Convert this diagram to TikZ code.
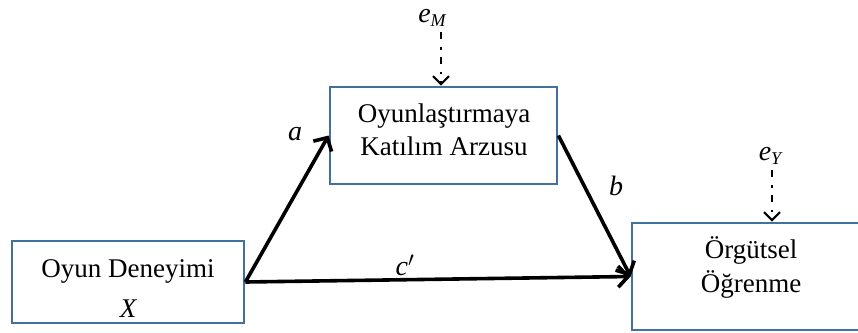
\documentclass[tikz,border=0pt]{standalone}
\usepackage{fontspec}
\setmainfont{Liberation Serif}
\usetikzlibrary{arrows.meta}
\definecolor{boxblue}{RGB}{65,113,156}
\begin{document}
\begin{tikzpicture}[x=1pt,y=-1pt,
  box/.style={draw=boxblue,line width=2.8pt,inner sep=0pt,fill=white},
  txt/.style={inner sep=0pt,font=\fontsize{27}{30}\selectfont},
  lbl/.style={inner sep=0pt,font=\fontsize{28}{30}\selectfont\itshape},
  arr/.style={line width=3.6pt,-{Straight Barb[length=10pt,width=21pt]}},
  darr/.style={line width=2.1pt,dash pattern=on 7pt off 8pt on 2.5pt off 7pt,-{Straight Barb[length=8pt,width=16pt]}}]
\useasboundingbox (0,0) rectangle (858,332);
\fill[white] (0,0) rectangle (858,332);
% boxes
\node[box,minimum width=232pt,minimum height=82pt] (lft) at (128,282) {};
\node[box,minimum width=227pt,minimum height=97pt] (mid) at (443.5,135.5) {};
\node[box,minimum width=240pt,minimum height=107pt] (rgt) at (752,276.5) {};
% box texts
\node[txt,anchor=base] (t1) at (128,277) {Oyun Deneyimi};
\node[txt,anchor=base] (t2) at (128,317) {\itshape X};
\node[txt,anchor=base] (t3) at (444,122) {Oyunlaştırmaya};
\node[txt,anchor=base] (t4) at (444,155) {Katılım Arzusu};
\node[txt,anchor=base] (t5) at (751,258) {Örgütsel};
\node[txt,anchor=base] (t6) at (751,292) {Öğrenme};
% error terms
\node[lbl,anchor=base] (eM) at (432,22) {e\raisebox{-4pt}{\fontsize{18}{18}\selectfont M}};
\node[lbl,anchor=base] (eY) at (770,160) {e\raisebox{-4pt}{\fontsize{18}{18}\selectfont Y}};
\coordinate (eMs) at (441,32);
\coordinate (eYs) at (772,170);
\draw[darr] (eMs) -- (eMs |- mid.north);
\draw[darr] (eYs) -- (eYs |- rgt.north);
% paths
\draw[arr] (lft.east) -- (mid.west);
\draw[arr] (mid.east) -- (rgt.west);
\draw[arr] (lft.east) -- (rgt.west);
% labels
\node[lbl] (la) at (295,134) {a};
\node[lbl] (lb) at (616,186) {b};
\node[lbl] (lc) at (405,265) {c$'$};
\end{tikzpicture}
\end{document}
